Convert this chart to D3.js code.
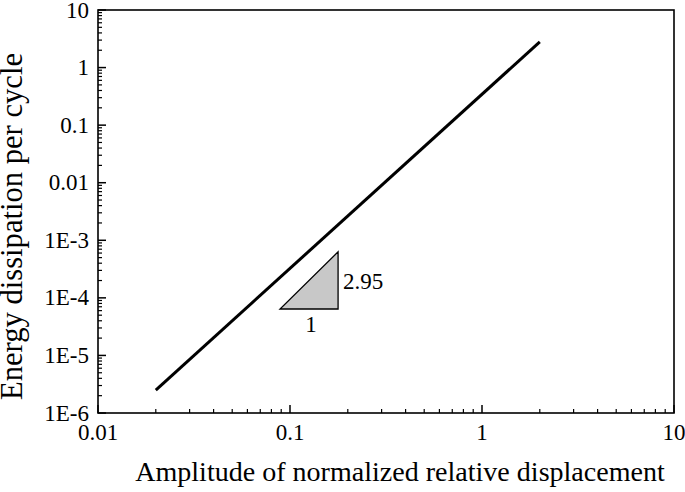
<!DOCTYPE html>
<html><head><meta charset="utf-8">
<script src="https://cdn.jsdelivr.net/npm/d3@7"></script>
<style>body{margin:0;background:#fff}svg{display:block}</style>
</head><body>
<script>
const lineX = [0.02, 2];
const lineY = [2.5e-6, 2.8];
const triX = [0.0887, 0.178, 0.178];
const triY = [6.4e-5, 6.4e-5, 6.3e-4];
const xTicks = [0.01, 0.1, 1, 10];
const xTickLabels = ["0.01", "0.1", "1", "10"];
const yTicks = [1e-6, 1e-5, 1e-4, 1e-3, 0.01, 0.1, 1, 10];
const yTickLabels = ["1E-6", "1E-5", "1E-4", "1E-3", "0.01", "0.1", "1", "10"];
const slopeLabel = "2.95", runLabel = "1";
const xTitle = "Amplitude of normalized relative displacement";
const yTitle = "Energy dissipation per cycle";

const FONT = "'Liberation Serif', 'Times New Roman', Tinos, serif";
const W = 685, H = 492;
const L = 98, R = 674, T = 10, B = 413;
const svg = d3.select("body").append("svg").attr("width", W).attr("height", H)
  .style("font-family", FONT);
const x = d3.scaleLog().domain([0.01, 10]).range([L, R]);
const y = d3.scaleLog().domain([1e-6, 10]).range([B, T]);

const minorX = [], minorY = [];
for (let e = -2; e < 1; e++) for (let k = 2; k <= 9; k++) minorX.push(k * Math.pow(10, e));
for (let e = -6; e < 1; e++) for (let k = 2; k <= 9; k++) minorY.push(k * Math.pow(10, e));

const g = svg.append("g");
g.selectAll(".mx").data(minorX).join("line")
  .attr("x1", d => x(d)).attr("x2", d => x(d)).attr("y1", B).attr("y2", B - 4)
  .attr("stroke", "#000").attr("stroke-width", 1.2);
g.selectAll(".Mx").data(xTicks).join("line")
  .attr("x1", d => x(d)).attr("x2", d => x(d)).attr("y1", B).attr("y2", B - 8)
  .attr("stroke", "#000").attr("stroke-width", 1.5);
g.selectAll(".my").data(minorY).join("line")
  .attr("y1", d => y(d)).attr("y2", d => y(d)).attr("x1", L).attr("x2", L + 4)
  .attr("stroke", "#000").attr("stroke-width", 1.2);
g.selectAll(".My").data(yTicks).join("line")
  .attr("y1", d => y(d)).attr("y2", d => y(d)).attr("x1", L).attr("x2", L + 8)
  .attr("stroke", "#000").attr("stroke-width", 1.5);

svg.append("rect").attr("x", L).attr("y", T).attr("width", R - L).attr("height", B - T)
  .attr("fill", "none").attr("stroke", "#000").attr("stroke-width", 1.6);

g.selectAll(".xl").data(xTicks).join("text")
  .attr("x", d => x(d)).attr("y", B + 27).attr("text-anchor", "middle")
  .attr("font-size", 23).text((d, i) => xTickLabels[i]);
g.selectAll(".yl").data(yTicks).join("text")
  .attr("x", L - 9).attr("y", d => y(d) + 7.5).attr("text-anchor", "end")
  .attr("font-size", 23).text((d, i) => yTickLabels[i]);

function fitText(sel, target) {
  const len = sel.node().getComputedTextLength();
  const fs = +sel.attr("font-size");
  if (len > 0) sel.attr("font-size", fs * target / len);
}
const xt = svg.append("text").attr("x", 400).attr("y", 481).attr("text-anchor", "middle")
  .attr("font-size", 26).text(xTitle);
fitText(xt, 530);
const yt = svg.append("text").attr("transform", `translate(22,226.5) rotate(-90)`)
  .attr("text-anchor", "middle").attr("font-size", 26).text(yTitle);
fitText(yt, 347);

const lg = d3.line().x(d => x(d[0])).y(d => y(d[1]));
svg.append("path").datum(lineX.map((v, i) => [v, lineY[i]])).attr("d", lg)
  .attr("fill", "none").attr("stroke", "#000").attr("stroke-width", 3);

svg.append("path").datum(triX.map((v, i) => [v, triY[i]])).attr("d", d => lg(d) + "Z")
  .attr("fill", "#c8c8c8").attr("stroke", "#000").attr("stroke-width", 1.3);

svg.append("text").attr("x", x(triX[2]) + 5).attr("y", 289)
  .attr("font-size", 23).text(slopeLabel);
svg.append("text").attr("x", (x(triX[0]) + x(triX[1])) / 2 + 2).attr("y", 332)
  .attr("text-anchor", "middle").attr("font-size", 23).text(runLabel);
</script>
</body></html>
